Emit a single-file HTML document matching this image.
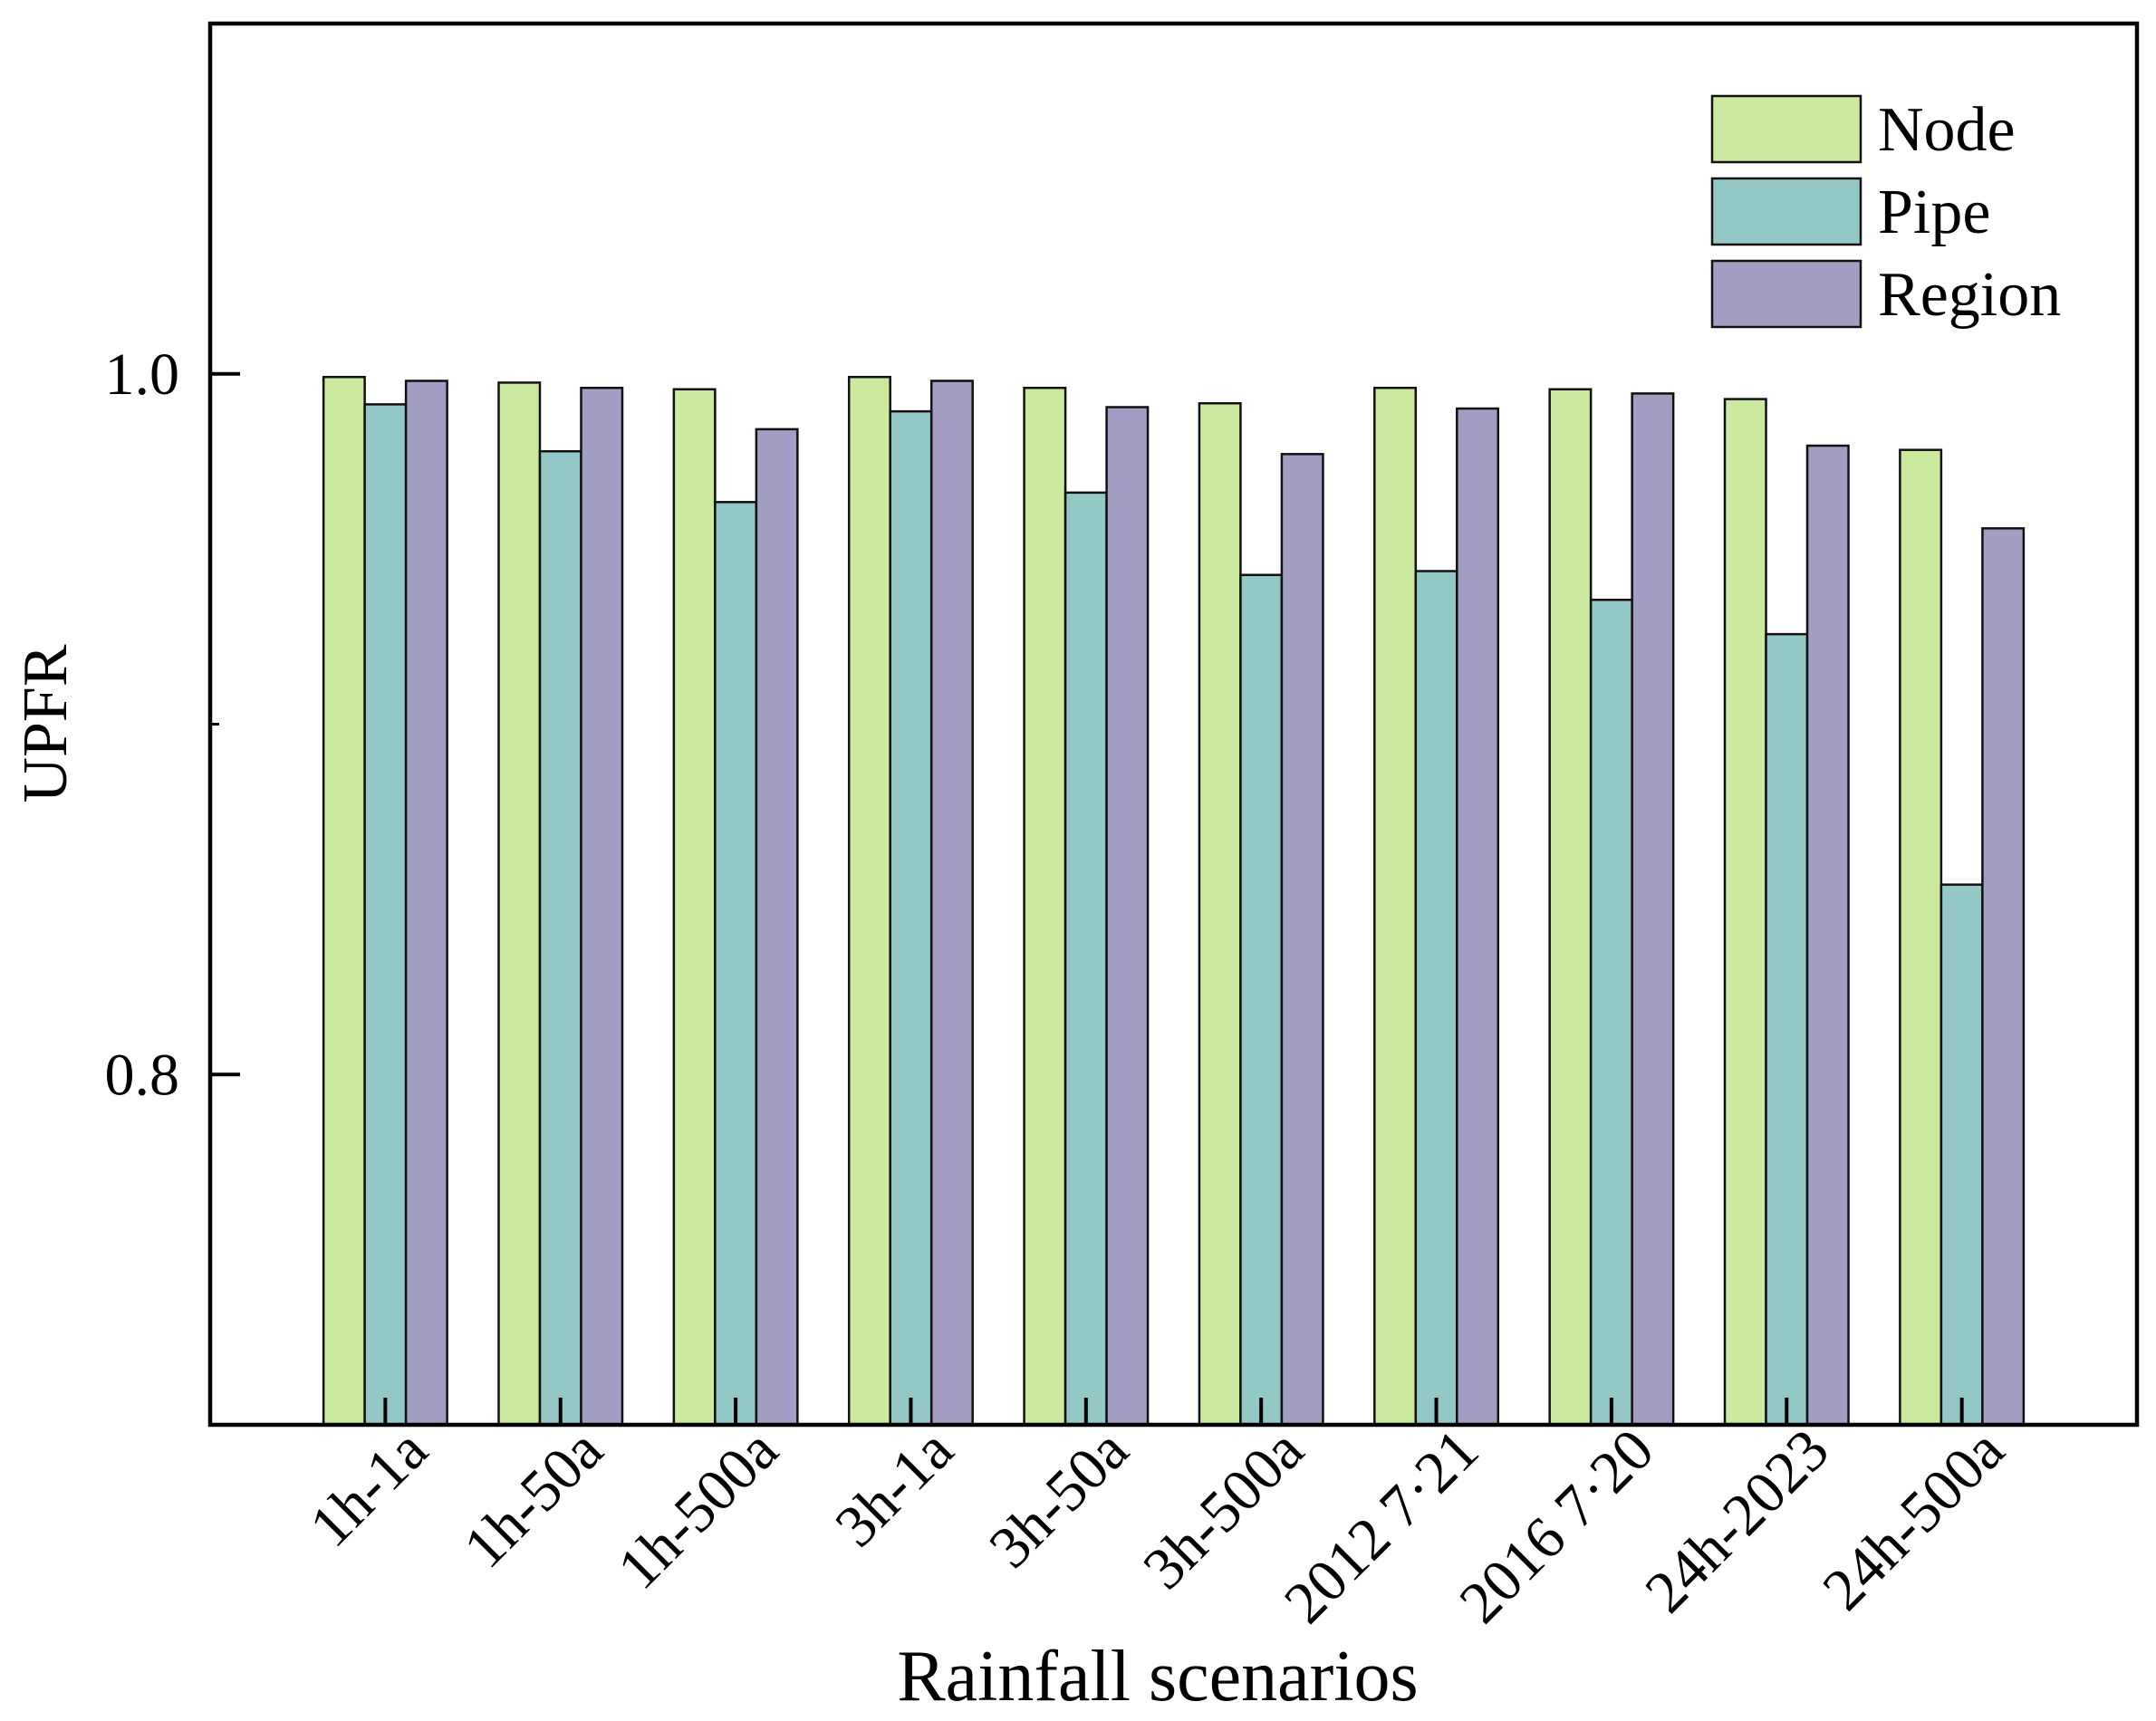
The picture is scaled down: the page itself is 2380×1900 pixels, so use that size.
<!DOCTYPE html>
<html><head><meta charset="utf-8"><style>
html,body{margin:0;padding:0;background:#fff;}
svg{display:block;font-family:"Liberation Serif",serif;}
</style></head><body>
<svg id="chart" width="2380" height="1900" viewBox="0 0 2380 1900" xmlns="http://www.w3.org/2000/svg">
<g id="bars"></g>
<g id="axes"></g>
<g id="legend"></g>
</svg>
<script>
const categories = ["1h-1a","1h-50a","1h-500a","3h-1a","3h-50a","3h-500a","2012 7·21","2016 7·20","24h-2023","24h-500a"];
const nodeValues = [0.9991,0.9975,0.9956,0.9991,0.9960,0.9916,0.9960,0.9956,0.9928,0.9783];
const pipeValues = [0.9913,0.9779,0.9634,0.9893,0.9661,0.9426,0.9437,0.9355,0.9257,0.8542];
const regionValues = [0.9980,0.9960,0.9842,0.9980,0.9905,0.9771,0.9901,0.9944,0.9795,0.9559];
const yTicks = [0.8, 1.0];
const yTickLabels = ["0.8","1.0"];
const yMinorTicks = [0.9];
const seriesNames = ["Node","Pipe","Region"];

const NS="http://www.w3.org/2000/svg";
const L=232,R=2359,T=26,B=1573,yMin=0.7,yMax=1.1;
const colors=["#cbeaa0","#93c8c6","#a29dc2"];
function yScale(v){return B-(v-yMin)/(yMax-yMin)*(B-T);}
function xCenter(i){return L+(R-L)/(categories.length+1)*(i+1);}
function mk(tag,attrs,parent){const e=document.createElementNS(NS,tag);for(const k in attrs)e.setAttribute(k,attrs[k]);parent.appendChild(e);return e;}
const bars=document.getElementById('bars'),axes=document.getElementById('axes'),legend=document.getElementById('legend');
const series=[nodeValues,pipeValues,regionValues];
const bw=45.5;
categories.forEach((c,i)=>{
  series.forEach((vals,s)=>{
    const x=xCenter(i)+(s-1.5)*bw, y=yScale(vals[i]);
    const r=mk('rect',{x:x,y:y,width:bw,height:B-y,fill:colors[s],stroke:'#111','stroke-width':2.5},bars);
    
    
  });
});
const fr=mk('rect',{x:L,y:T,width:R-L,height:B-T,fill:'none',stroke:'#000','stroke-width':4.5},axes);


yTicks.forEach((v,k)=>{
  const y=yScale(v);
  const t=mk('line',{x1:L,x2:L+33,y1:y,y2:y,stroke:'#000','stroke-width':4},axes);
  
  
  const lb=mk('text',{x:198,y:y+22,'text-anchor':'end','font-size':66,fill:'#000'},axes);
  lb.textContent=yTickLabels[k];
  
  
});
yMinorTicks.forEach(v=>{
  const y=yScale(v);
  const t=mk('line',{x1:L,x2:L+10,y1:y,y2:y,stroke:'#000','stroke-width':3},axes);
  
  
});
categories.forEach((c,i)=>{
  const x=xCenter(i);
  const t=mk('line',{x1:x,x2:x,y1:B,y2:B-30,stroke:'#000','stroke-width':4},axes);
  
  
  const ax=x+50, ay=1605;
  const lb=mk('text',{x:ax,y:ay,'text-anchor':'end','font-size':66,fill:'#000',transform:'rotate(-45 '+ax+' '+ay+')'},axes);
  lb.textContent=c;
  
  
});
const xt=mk('text',{x:1278,y:1877,'text-anchor':'middle','font-size':80,fill:'#000'},axes);
xt.textContent='Rainfall scenarios';


const yt=mk('text',{x:73,y:799,'text-anchor':'middle','font-size':70,fill:'#000',transform:'rotate(-90 73 799)'},axes);
yt.textContent='UPFR';


seriesNames.forEach((n,s)=>{
  const y0=106+s*91;
  const sw=mk('rect',{x:1890,y:y0,width:164,height:73,fill:colors[s],stroke:'#111','stroke-width':2.5},legend);
  
  
  const tx=mk('text',{x:2073,y:y0+60,'font-size':70,fill:'#000'},legend);
  tx.textContent=n;
  
  
});
</script>
</body></html>
